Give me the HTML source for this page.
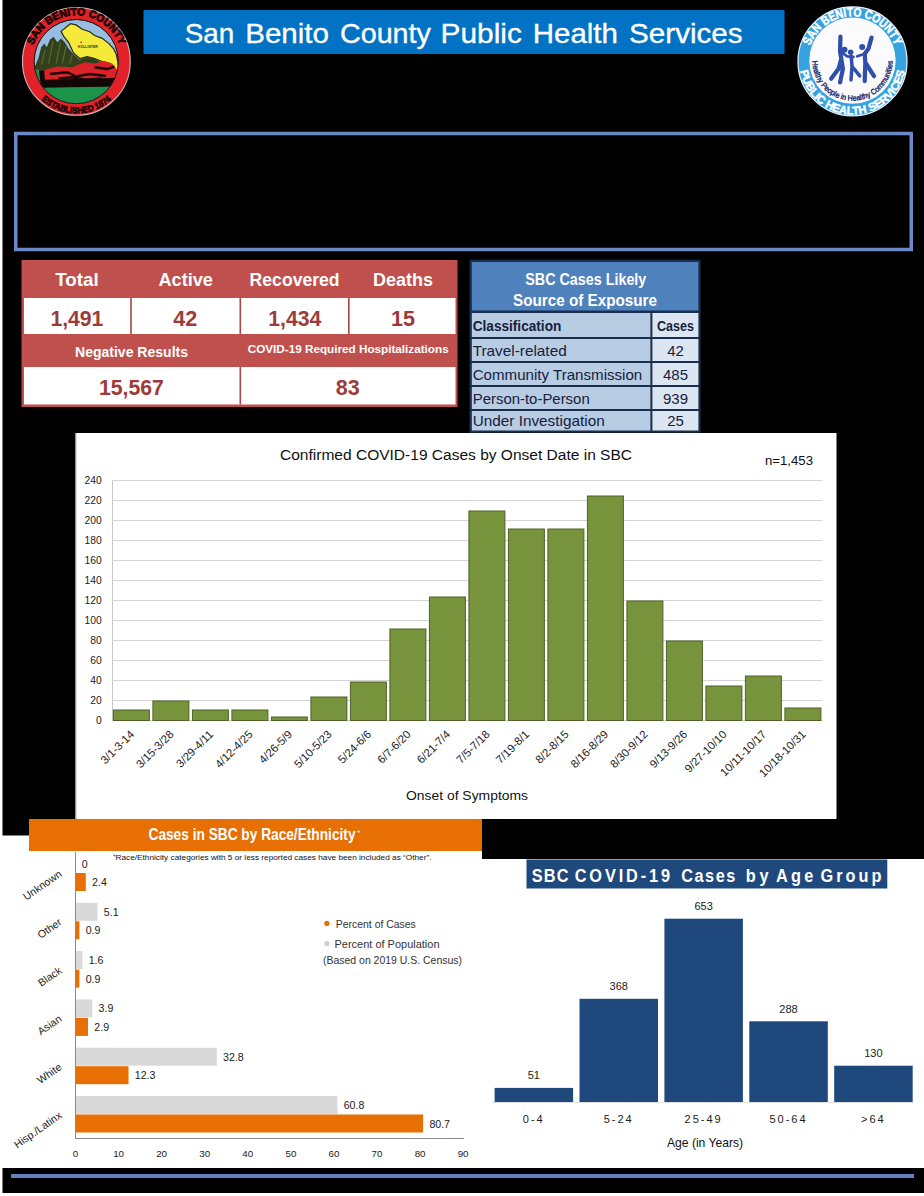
<!DOCTYPE html><html><head><meta charset="utf-8"><title>San Benito County Public Health Services</title><style>html,body{margin:0;padding:0;background:#fff;}body{width:924px;height:1196px;overflow:hidden;}svg{display:block;font-family:"Liberation Sans",Arial,sans-serif;}</style></head><body>
<svg width="924" height="1196" viewBox="0 0 924 1196">
<rect x="0" y="0" width="924" height="1196" fill="#fff"/>
<rect x="2.5" y="0" width="921.5" height="819.5" fill="#000"/>
<rect x="2.5" y="819" width="27" height="16.5" fill="#000"/>
<rect x="482" y="819" width="442" height="40" fill="#000"/>
<rect x="2.5" y="1168" width="921.5" height="25" fill="#000"/>
<rect x="11" y="1174" width="903" height="4" fill="#5E80BE"/>
<g transform="translate(20,5) scale(0.12446)">
<defs><clipPath id="lin"><circle cx="452" cy="455" r="337"/></clipPath><path id="ltop" d="M 82 453 A 371 371 0 0 1 824 453"/><path id="lbot" d="M 35 453 A 418 418 0 0 0 871 453"/></defs>
<circle cx="453" cy="453" r="433" fill="#E32128" stroke="#c9b7b7" stroke-width="9"/>
<circle cx="452" cy="455" r="340" fill="#1a1a1a"/>
<g clip-path="url(#lin)">
<rect x="100" y="100" width="720" height="720" fill="#97BDE3"/>
<path d="M330 212 L405 150 L450 160 L500 195 L560 215 L600 245 L660 268 L715 310 L752 352 L775 400 L785 450 L800 540 L760 520 L720 470 L660 455 L600 430 L540 415 L480 430 L430 385 L390 300 L350 250 Z" fill="#F5EA3A" stroke="#2a2a10" stroke-width="10"/>
<path d="M110 520 L150 420 L170 340 L195 310 L215 340 L240 280 L270 255 L300 300 L330 270 L360 300 L390 350 L430 395 L480 440 L530 415 L590 425 L650 460 L690 480 L560 520 L300 530 Z" fill="#33401C"/>
<path d="M175 480 L200 360 M230 470 L265 290 M290 470 L325 300 M340 470 L370 330 M400 470 L420 400" stroke="#5A6632" stroke-width="10" fill="none"/>
<path d="M190 525 L300 495 L420 500 L520 460 L600 470 L680 450 L740 470 L780 520 L790 600 L190 605 Z" fill="#DA2228"/>
<path d="M240 555 L380 540 L450 575 L560 555 L690 570 M310 590 L420 580 L520 600 L650 590 M600 500 L700 515 L760 495" stroke="#1a0606" stroke-width="20" fill="none"/>
<path d="M150 525 L195 525 L200 600 L790 585 L800 600 L800 660 L160 668 Z" fill="#120606"/>
<path d="M100 520 L150 520 L170 665 L820 655 L820 820 L100 820 Z" fill="#1B9449"/>
</g>
<circle cx="452" cy="455" r="338" fill="none" stroke="#111" stroke-width="7"/>
<circle cx="492" cy="300" r="7" fill="#c0302a"/>
<text x="465" y="345" font-size="30" font-weight="bold" fill="#3a2a10" textLength="160" lengthAdjust="spacingAndGlyphs">HOLLISTER</text>
<text font-size="84" font-weight="bold" fill="#1a0505" stroke="#1a0505" stroke-width="6"><textPath href="#ltop" startOffset="50%" text-anchor="middle" textLength="900" lengthAdjust="spacingAndGlyphs">SAN BENITO COUNTY</textPath></text>
<text font-size="72" font-weight="bold" fill="#1a0505" stroke="#1a0505" stroke-width="5"><textPath href="#lbot" startOffset="50%" text-anchor="middle" textLength="620" lengthAdjust="spacingAndGlyphs">ESTABLISHED 1874</textPath></text>
</g>
<g transform="translate(795,4) scale(0.12446)">
<defs><path id="rtop" d="M 100 461 A 362 362 0 0 1 824 461"/><path id="rbot" d="M 34 461 A 428 428 0 0 0 890 461"/><path id="rin" d="M 151 372 A 322 322 0 1 0 773 372"/></defs>
<circle cx="462" cy="461" r="438" fill="#35A2E2" stroke="#e8f4fb" stroke-width="10"/>
<circle cx="462" cy="455" r="347" fill="#FBFBFD"/>
<text font-size="100" font-weight="bold" fill="#fff" stroke="#fff" stroke-width="4"><textPath href="#rtop" startOffset="50%" text-anchor="middle" textLength="880" lengthAdjust="spacingAndGlyphs">SAN BENITO COUNTY</textPath></text>
<text font-size="92" font-weight="bold" fill="#fff" stroke="#fff" stroke-width="4"><textPath href="#rbot" startOffset="50%" text-anchor="middle" textLength="1190" lengthAdjust="spacingAndGlyphs">PUBLIC HEALTH SERVICES</textPath></text>
<g fill="#2F4FAA" stroke="#2F4FAA" stroke-linecap="round" stroke-linejoin="round">
<circle cx="398" cy="368" r="24" stroke="none"/><circle cx="447" cy="388" r="22" stroke="none"/><circle cx="540" cy="345" r="24" stroke="none"/>
<path d="M365 262 L362 380 L372 440 L350 520 L290 600 M372 440 L385 520 L362 630" fill="none" stroke-width="34"/>
<path d="M362 380 L420 420 L470 425" fill="none" stroke-width="22"/>
<path d="M452 420 L458 500 L450 610 M458 500 L520 578" fill="none" stroke-width="28"/>
<path d="M615 270 L590 360 L560 400 L565 470 L560 620 M565 470 L635 580" fill="none" stroke-width="34"/>
<path d="M560 400 L500 420" fill="none" stroke-width="22"/>
</g>
<text font-size="62" fill="#1B2A66" stroke="#1B2A66" stroke-width="3"><textPath href="#rin" startOffset="50%" text-anchor="middle" textLength="1010" lengthAdjust="spacingAndGlyphs">Healthy People in Healthy Communities</textPath></text>
</g>
<rect x="143.5" y="10" width="641" height="44" fill="#0272C4"/>
<text x="184.7" y="43.1" font-size="28.5" fill="#fff" text-anchor="start" textLength="49.5" lengthAdjust="spacingAndGlyphs" stroke="#fff" stroke-width="0.35">San</text>
<text x="245.2" y="43.1" font-size="28.5" fill="#fff" text-anchor="start" textLength="83.8" lengthAdjust="spacingAndGlyphs" stroke="#fff" stroke-width="0.35">Benito</text>
<text x="340" y="43.1" font-size="28.5" fill="#fff" text-anchor="start" textLength="90.9" lengthAdjust="spacingAndGlyphs" stroke="#fff" stroke-width="0.35">County</text>
<text x="440.6" y="43.1" font-size="28.5" fill="#fff" text-anchor="start" textLength="81.2" lengthAdjust="spacingAndGlyphs" stroke="#fff" stroke-width="0.35">Public</text>
<text x="532.8" y="43.1" font-size="28.5" fill="#fff" text-anchor="start" textLength="85.1" lengthAdjust="spacingAndGlyphs" stroke="#fff" stroke-width="0.35">Health</text>
<text x="629" y="43.1" font-size="28.5" fill="#fff" text-anchor="start" textLength="113.7" lengthAdjust="spacingAndGlyphs" stroke="#fff" stroke-width="0.35">Services</text>
<rect x="15.75" y="133.5" width="895.5" height="116" fill="none" stroke="#6B89C4" stroke-width="3.5"/>
<rect x="21.5" y="260" width="436" height="147" fill="#C0504D"/>
<rect x="24" y="298" width="431.5" height="36" fill="#fff"/>
<rect x="24" y="367" width="431.5" height="37.5" fill="#fff"/>
<rect x="130.2" y="298" width="1.6" height="36" fill="#A64542"/>
<rect x="239.5" y="298" width="1.6" height="36" fill="#A64542"/>
<rect x="348" y="298" width="1.6" height="36" fill="#A64542"/>
<rect x="239.5" y="367" width="1.6" height="37.5" fill="#A64542"/>
<text x="77" y="286.3" font-size="18.5" fill="#fff" font-weight="bold" text-anchor="middle" textLength="43.5" lengthAdjust="spacingAndGlyphs" >Total</text>
<text x="185.7" y="286.3" font-size="18.5" fill="#fff" font-weight="bold" text-anchor="middle" textLength="54.5" lengthAdjust="spacingAndGlyphs" >Active</text>
<text x="294.6" y="286.3" font-size="18.5" fill="#fff" font-weight="bold" text-anchor="middle" textLength="90" lengthAdjust="spacingAndGlyphs" >Recovered</text>
<text x="403" y="286.3" font-size="18.5" fill="#fff" font-weight="bold" text-anchor="middle" textLength="60" lengthAdjust="spacingAndGlyphs" >Deaths</text>
<text x="76.9" y="325.5" font-size="21.5" fill="#9C3B39" font-weight="bold" text-anchor="middle" textLength="53" lengthAdjust="spacingAndGlyphs" >1,491</text>
<text x="185.2" y="325.5" font-size="21.5" fill="#9C3B39" font-weight="bold" text-anchor="middle" textLength="24" lengthAdjust="spacingAndGlyphs" >42</text>
<text x="294.8" y="325.5" font-size="21.5" fill="#9C3B39" font-weight="bold" text-anchor="middle" textLength="53" lengthAdjust="spacingAndGlyphs" >1,434</text>
<text x="403" y="325.5" font-size="21.5" fill="#9C3B39" font-weight="bold" text-anchor="middle" textLength="24" lengthAdjust="spacingAndGlyphs" >15</text>
<text x="131.5" y="356.5" font-size="14" fill="#fff" font-weight="bold" text-anchor="middle" textLength="113" lengthAdjust="spacingAndGlyphs" >Negative Results</text>
<text x="348.2" y="352.5" font-size="11.5" fill="#fff" font-weight="bold" text-anchor="middle" textLength="201" lengthAdjust="spacingAndGlyphs" >COVID-19 Required Hospitalizations</text>
<text x="131.4" y="395" font-size="21.5" fill="#9C3B39" font-weight="bold" text-anchor="middle" textLength="65" lengthAdjust="spacingAndGlyphs" >15,567</text>
<text x="347.7" y="395" font-size="21.5" fill="#9C3B39" font-weight="bold" text-anchor="middle" textLength="24" lengthAdjust="spacingAndGlyphs" >83</text>
<rect x="469.5" y="259.7" width="231" height="173" fill="#1A2E4D"/>
<rect x="471.8" y="262" width="226.6" height="48.5" fill="#4F81BD"/>
<rect x="471.8" y="313" width="178.6" height="24" fill="#B8CCE4"/>
<rect x="652.4" y="313" width="46" height="24" fill="#DCE6F2"/>
<rect x="471.8" y="339" width="178.6" height="22" fill="#B8CCE4"/>
<rect x="652.4" y="339" width="46" height="22" fill="#DCE6F2"/>
<rect x="471.8" y="363" width="178.6" height="22" fill="#B8CCE4"/>
<rect x="652.4" y="363" width="46" height="22" fill="#DCE6F2"/>
<rect x="471.8" y="387" width="178.6" height="22" fill="#B8CCE4"/>
<rect x="652.4" y="387" width="46" height="22" fill="#DCE6F2"/>
<rect x="471.8" y="411" width="178.6" height="19.5" fill="#B8CCE4"/>
<rect x="652.4" y="411" width="46" height="19.5" fill="#DCE6F2"/>
<text x="585.8" y="284.6" font-size="17.2" fill="#fff" font-weight="bold" text-anchor="middle" textLength="121" lengthAdjust="spacingAndGlyphs" >SBC Cases Likely</text>
<text x="585" y="305.8" font-size="17.2" fill="#fff" font-weight="bold" text-anchor="middle" textLength="144" lengthAdjust="spacingAndGlyphs" >Source of Exposure</text>
<text x="472.7" y="331.3" font-size="15" fill="#15213A" font-weight="bold" text-anchor="start" textLength="88.6" lengthAdjust="spacingAndGlyphs" >Classification</text>
<text x="675.5" y="331.3" font-size="15" fill="#15213A" font-weight="bold" text-anchor="middle" textLength="37" lengthAdjust="spacingAndGlyphs" >Cases</text>
<text x="472.7" y="356.4" font-size="15" fill="#15213A" text-anchor="start" textLength="94" lengthAdjust="spacingAndGlyphs" >Travel-related</text>
<text x="675.5" y="356.4" font-size="15" fill="#15213A" text-anchor="middle" >42</text>
<text x="472.7" y="379.8" font-size="15" fill="#15213A" text-anchor="start" textLength="169.6" lengthAdjust="spacingAndGlyphs" >Community Transmission</text>
<text x="675.5" y="379.8" font-size="15" fill="#15213A" text-anchor="middle" >485</text>
<text x="472.7" y="404.2" font-size="15" fill="#15213A" text-anchor="start" textLength="117" lengthAdjust="spacingAndGlyphs" >Person-to-Person</text>
<text x="675.5" y="404.2" font-size="15" fill="#15213A" text-anchor="middle" >939</text>
<text x="472.7" y="426.2" font-size="15" fill="#15213A" text-anchor="start" textLength="132" lengthAdjust="spacingAndGlyphs" >Under Investigation</text>
<text x="675.5" y="426.2" font-size="15" fill="#15213A" text-anchor="middle" >25</text>
<rect x="75.5" y="433" width="761" height="386" fill="#fff"/>
<rect x="75.5" y="433" width="1" height="386" fill="#b0b0b0"/>
<rect x="112" y="480" width="1" height="241" fill="#C8C8C8"/>
<rect x="112" y="720.0" width="710.5" height="1" fill="#D4D4D4"/>
<text x="101.8" y="723.7" font-size="10.3" fill="#222" text-anchor="end" >0</text>
<rect x="112" y="700.0" width="710.5" height="1" fill="#D4D4D4"/>
<text x="101.8" y="703.7" font-size="10.3" fill="#222" text-anchor="end" >20</text>
<rect x="112" y="680.0" width="710.5" height="1" fill="#D4D4D4"/>
<text x="101.8" y="683.7" font-size="10.3" fill="#222" text-anchor="end" >40</text>
<rect x="112" y="660.0" width="710.5" height="1" fill="#D4D4D4"/>
<text x="101.8" y="663.7" font-size="10.3" fill="#222" text-anchor="end" >60</text>
<rect x="112" y="640.0" width="710.5" height="1" fill="#D4D4D4"/>
<text x="101.8" y="643.7" font-size="10.3" fill="#222" text-anchor="end" >80</text>
<rect x="112" y="620.0" width="710.5" height="1" fill="#D4D4D4"/>
<text x="101.8" y="623.7" font-size="10.3" fill="#222" text-anchor="end" >100</text>
<rect x="112" y="600.0" width="710.5" height="1" fill="#D4D4D4"/>
<text x="101.8" y="603.7" font-size="10.3" fill="#222" text-anchor="end" >120</text>
<rect x="112" y="580.0" width="710.5" height="1" fill="#D4D4D4"/>
<text x="101.8" y="583.7" font-size="10.3" fill="#222" text-anchor="end" >140</text>
<rect x="112" y="560.0" width="710.5" height="1" fill="#D4D4D4"/>
<text x="101.8" y="563.7" font-size="10.3" fill="#222" text-anchor="end" >160</text>
<rect x="112" y="540.0" width="710.5" height="1" fill="#D4D4D4"/>
<text x="101.8" y="543.7" font-size="10.3" fill="#222" text-anchor="end" >180</text>
<rect x="112" y="520.0" width="710.5" height="1" fill="#D4D4D4"/>
<text x="101.8" y="523.7" font-size="10.3" fill="#222" text-anchor="end" >200</text>
<rect x="112" y="500.0" width="710.5" height="1" fill="#D4D4D4"/>
<text x="101.8" y="503.7" font-size="10.3" fill="#222" text-anchor="end" >220</text>
<rect x="112" y="480.0" width="710.5" height="1" fill="#D4D4D4"/>
<text x="101.8" y="483.7" font-size="10.3" fill="#222" text-anchor="end" >240</text>
<rect x="113.40" y="710.0" width="36" height="10.5" fill="#77933C" stroke="#4F6228" stroke-width="1"/>
<text x="0" y="0" font-size="11.3" fill="#222" text-anchor="end" transform="translate(134.9,735) rotate(-45)">3/1-3-14</text>
<rect x="152.90" y="701.0" width="36" height="19.5" fill="#77933C" stroke="#4F6228" stroke-width="1"/>
<text x="0" y="0" font-size="11.3" fill="#222" text-anchor="end" transform="translate(174.4,735) rotate(-45)">3/15-3/28</text>
<rect x="192.40" y="710.0" width="36" height="10.5" fill="#77933C" stroke="#4F6228" stroke-width="1"/>
<text x="0" y="0" font-size="11.3" fill="#222" text-anchor="end" transform="translate(213.9,735) rotate(-45)">3/29-4/11</text>
<rect x="231.90" y="710.0" width="36" height="10.5" fill="#77933C" stroke="#4F6228" stroke-width="1"/>
<text x="0" y="0" font-size="11.3" fill="#222" text-anchor="end" transform="translate(253.4,735) rotate(-45)">4/12-4/25</text>
<rect x="271.40" y="717.0" width="36" height="3.5" fill="#77933C" stroke="#4F6228" stroke-width="1"/>
<text x="0" y="0" font-size="11.3" fill="#222" text-anchor="end" transform="translate(292.9,735) rotate(-45)">4/26-5/9</text>
<rect x="310.90" y="697.0" width="36" height="23.5" fill="#77933C" stroke="#4F6228" stroke-width="1"/>
<text x="0" y="0" font-size="11.3" fill="#222" text-anchor="end" transform="translate(332.4,735) rotate(-45)">5/10-5/23</text>
<rect x="350.40" y="682.0" width="36" height="38.5" fill="#77933C" stroke="#4F6228" stroke-width="1"/>
<text x="0" y="0" font-size="11.3" fill="#222" text-anchor="end" transform="translate(371.9,735) rotate(-45)">5/24-6/6</text>
<rect x="389.90" y="629.0" width="36" height="91.5" fill="#77933C" stroke="#4F6228" stroke-width="1"/>
<text x="0" y="0" font-size="11.3" fill="#222" text-anchor="end" transform="translate(411.4,735) rotate(-45)">6/7-6/20</text>
<rect x="429.40" y="597.0" width="36" height="123.5" fill="#77933C" stroke="#4F6228" stroke-width="1"/>
<text x="0" y="0" font-size="11.3" fill="#222" text-anchor="end" transform="translate(450.9,735) rotate(-45)">6/21-7/4</text>
<rect x="468.90" y="511.0" width="36" height="209.5" fill="#77933C" stroke="#4F6228" stroke-width="1"/>
<text x="0" y="0" font-size="11.3" fill="#222" text-anchor="end" transform="translate(490.4,735) rotate(-45)">7/5-7/18</text>
<rect x="508.40" y="529.0" width="36" height="191.5" fill="#77933C" stroke="#4F6228" stroke-width="1"/>
<text x="0" y="0" font-size="11.3" fill="#222" text-anchor="end" transform="translate(529.9,735) rotate(-45)">7/19-8/1</text>
<rect x="547.90" y="529.0" width="36" height="191.5" fill="#77933C" stroke="#4F6228" stroke-width="1"/>
<text x="0" y="0" font-size="11.3" fill="#222" text-anchor="end" transform="translate(569.4,735) rotate(-45)">8/2-8/15</text>
<rect x="587.40" y="496.0" width="36" height="224.5" fill="#77933C" stroke="#4F6228" stroke-width="1"/>
<text x="0" y="0" font-size="11.3" fill="#222" text-anchor="end" transform="translate(608.9,735) rotate(-45)">8/16-8/29</text>
<rect x="626.90" y="601.0" width="36" height="119.5" fill="#77933C" stroke="#4F6228" stroke-width="1"/>
<text x="0" y="0" font-size="11.3" fill="#222" text-anchor="end" transform="translate(648.4,735) rotate(-45)">8/30-9/12</text>
<rect x="666.40" y="641.0" width="36" height="79.5" fill="#77933C" stroke="#4F6228" stroke-width="1"/>
<text x="0" y="0" font-size="11.3" fill="#222" text-anchor="end" transform="translate(687.9,735) rotate(-45)">9/13-9/26</text>
<rect x="705.90" y="686.0" width="36" height="34.5" fill="#77933C" stroke="#4F6228" stroke-width="1"/>
<text x="0" y="0" font-size="11.3" fill="#222" text-anchor="end" transform="translate(727.4,735) rotate(-45)">9/27-10/10</text>
<rect x="745.40" y="676.0" width="36" height="44.5" fill="#77933C" stroke="#4F6228" stroke-width="1"/>
<text x="0" y="0" font-size="11.3" fill="#222" text-anchor="end" transform="translate(766.9,735) rotate(-45)">10/11-10/17</text>
<rect x="784.90" y="708.0" width="36" height="12.5" fill="#77933C" stroke="#4F6228" stroke-width="1"/>
<text x="0" y="0" font-size="11.3" fill="#222" text-anchor="end" transform="translate(806.4,735) rotate(-45)">10/18-10/31</text>
<text x="456" y="459.7" font-size="15.5" fill="#111" text-anchor="middle" textLength="352" lengthAdjust="spacingAndGlyphs" >Confirmed COVID-19 Cases by Onset Date in SBC</text>
<text x="813" y="464.5" font-size="12.5" fill="#111" text-anchor="end" textLength="48" lengthAdjust="spacingAndGlyphs" >n=1,453</text>
<text x="467" y="800" font-size="13.5" fill="#111" text-anchor="middle" textLength="122" lengthAdjust="spacingAndGlyphs" >Onset of Symptoms</text>
<rect x="29" y="819" width="453" height="32" fill="#E76F04"/>
<text x="148.5" y="839.5" font-size="16.6" fill="#fff" font-weight="bold" text-anchor="start" textLength="207" lengthAdjust="spacingAndGlyphs" >Cases in SBC by Race/Ethnicity</text>
<text x="357" y="833" font-size="6" fill="#fff" font-weight="bold" text-anchor="start" >+</text>
<text x="113" y="857" font-size="4.5" fill="#111" text-anchor="start" >+</text>
<text x="115.5" y="860.3" font-size="7.6" fill="#111" text-anchor="start" textLength="316" lengthAdjust="spacingAndGlyphs" >Race/Ethnicity categories with 5 or less reported cases have been included as “Other”.</text>
<rect x="75.5" y="854.5" width="0.0" height="18" fill="#D9D9D9"/>
<rect x="75.5" y="873.0" width="10.3" height="18" fill="#E76F04"/>
<text x="81.8" y="867.5" font-size="10.6" fill="#222" text-anchor="start" >0</text>
<text x="92.1" y="886.0" font-size="10.6" fill="#222" text-anchor="start" >2.4</text>
<text x="0" y="0" font-size="10.6" fill="#222" text-anchor="end" transform="translate(62.5,875.5) rotate(-35)">Unknown</text>
<rect x="75.5" y="902.8" width="22.0" height="18" fill="#D9D9D9"/>
<rect x="75.5" y="921.3" width="3.9" height="18" fill="#E76F04"/>
<text x="103.8" y="915.8" font-size="10.6" fill="#222" text-anchor="start" >5.1</text>
<text x="85.7" y="934.3" font-size="10.6" fill="#222" text-anchor="start" >0.9</text>
<text x="0" y="0" font-size="10.6" fill="#222" text-anchor="end" transform="translate(62.5,923.8) rotate(-35)">Other</text>
<rect x="75.5" y="951.1" width="6.9" height="18" fill="#D9D9D9"/>
<rect x="75.5" y="969.6" width="3.9" height="18" fill="#E76F04"/>
<text x="88.7" y="964.1" font-size="10.6" fill="#222" text-anchor="start" >1.6</text>
<text x="85.7" y="982.6" font-size="10.6" fill="#222" text-anchor="start" >0.9</text>
<text x="0" y="0" font-size="10.6" fill="#222" text-anchor="end" transform="translate(62.5,972.1) rotate(-35)">Black</text>
<rect x="75.5" y="999.4" width="16.8" height="18" fill="#D9D9D9"/>
<rect x="75.5" y="1017.9" width="12.5" height="18" fill="#E76F04"/>
<text x="98.6" y="1012.4" font-size="10.6" fill="#222" text-anchor="start" >3.9</text>
<text x="94.3" y="1030.9" font-size="10.6" fill="#222" text-anchor="start" >2.9</text>
<text x="0" y="0" font-size="10.6" fill="#222" text-anchor="end" transform="translate(62.5,1020.4) rotate(-35)">Asian</text>
<rect x="75.5" y="1047.7" width="141.3" height="18" fill="#D9D9D9"/>
<rect x="75.5" y="1066.2" width="53.0" height="18" fill="#E76F04"/>
<text x="223.1" y="1060.7" font-size="10.6" fill="#222" text-anchor="start" >32.8</text>
<text x="134.8" y="1079.2" font-size="10.6" fill="#222" text-anchor="start" >12.3</text>
<text x="0" y="0" font-size="10.6" fill="#222" text-anchor="end" transform="translate(62.5,1068.7) rotate(-35)">White</text>
<rect x="75.5" y="1096.0" width="261.9" height="18" fill="#D9D9D9"/>
<rect x="75.5" y="1114.5" width="347.6" height="18" fill="#E76F04"/>
<text x="343.7" y="1109.0" font-size="10.6" fill="#222" text-anchor="start" >60.8</text>
<text x="429.4" y="1127.5" font-size="10.6" fill="#222" text-anchor="start" >80.7</text>
<text x="0" y="0" font-size="10.6" fill="#222" text-anchor="end" transform="translate(62.5,1117.0) rotate(-35)">Hisp./Latinx</text>
<rect x="75" y="852" width="1" height="287" fill="#8a8a8a"/>
<rect x="75" y="1138" width="389" height="1" fill="#8a8a8a"/>
<text x="75.5" y="1156.6" font-size="9.8" fill="#222" text-anchor="middle" >0</text>
<text x="118.6" y="1156.6" font-size="9.8" fill="#222" text-anchor="middle" >10</text>
<text x="161.6" y="1156.6" font-size="9.8" fill="#222" text-anchor="middle" >20</text>
<text x="204.7" y="1156.6" font-size="9.8" fill="#222" text-anchor="middle" >30</text>
<text x="247.8" y="1156.6" font-size="9.8" fill="#222" text-anchor="middle" >40</text>
<text x="290.9" y="1156.6" font-size="9.8" fill="#222" text-anchor="middle" >50</text>
<text x="333.9" y="1156.6" font-size="9.8" fill="#222" text-anchor="middle" >60</text>
<text x="377.0" y="1156.6" font-size="9.8" fill="#222" text-anchor="middle" >70</text>
<text x="420.1" y="1156.6" font-size="9.8" fill="#222" text-anchor="middle" >80</text>
<text x="463.1" y="1156.6" font-size="9.8" fill="#222" text-anchor="middle" >90</text>
<circle cx="326.9" cy="923.4" r="2.6" fill="#E76F04"/>
<circle cx="326.9" cy="943.6" r="2.6" fill="#CFCFCF"/>
<text x="335.8" y="928" font-size="11.5" fill="#333" text-anchor="start" textLength="80" lengthAdjust="spacingAndGlyphs" >Percent of Cases</text>
<text x="334.5" y="948.2" font-size="11.5" fill="#333" text-anchor="start" textLength="105" lengthAdjust="spacingAndGlyphs" >Percent of Population</text>
<text x="323" y="964.2" font-size="11.5" fill="#333" text-anchor="start" textLength="139" lengthAdjust="spacingAndGlyphs" >(Based on 2019 U.S. Census)</text>
<rect x="526.5" y="859.5" width="360.8" height="29" fill="#1F497D"/>
<g transform="scale(0.88,1)">
<text x="604.2" y="882.5" font-size="18.5" font-weight="bold" fill="#fff" textLength="41.7" lengthAdjust="spacing">SBC</text>
<text x="653.1" y="882.5" font-size="18.5" font-weight="bold" fill="#fff" textLength="108.2" lengthAdjust="spacing">COVID-19</text>
<text x="774.3" y="882.5" font-size="18.5" font-weight="bold" fill="#fff" textLength="61.2" lengthAdjust="spacing">Cases</text>
<text x="847.4" y="882.5" font-size="18.5" font-weight="bold" fill="#fff" textLength="26.0" lengthAdjust="spacing">by</text>
<text x="881.8" y="882.5" font-size="18.5" font-weight="bold" fill="#fff" textLength="42.5" lengthAdjust="spacing">Age</text>
<text x="932.4" y="882.5" font-size="18.5" font-weight="bold" fill="#fff" textLength="69.3" lengthAdjust="spacing">Group</text>
</g>
<rect x="494.6" y="1087.9" width="78.5" height="14.3" fill="#1F497D"/>
<text x="533.8" y="1079.2" font-size="11" fill="#222" text-anchor="middle" >51</text>
<text x="533.8" y="1123" font-size="11" fill="#222" text-anchor="middle" letter-spacing="2">0-4</text>
<rect x="579.5" y="998.8" width="78.5" height="103.4" fill="#1F497D"/>
<text x="618.7" y="990.1" font-size="11" fill="#222" text-anchor="middle" >368</text>
<text x="618.7" y="1123" font-size="11" fill="#222" text-anchor="middle" letter-spacing="2">5-24</text>
<rect x="664.4" y="918.7" width="78.5" height="183.5" fill="#1F497D"/>
<text x="703.6" y="910.0" font-size="11" fill="#222" text-anchor="middle" >653</text>
<text x="703.6" y="1123" font-size="11" fill="#222" text-anchor="middle" letter-spacing="2">25-49</text>
<rect x="749.3" y="1021.3" width="78.5" height="80.9" fill="#1F497D"/>
<text x="788.5" y="1012.6" font-size="11" fill="#222" text-anchor="middle" >288</text>
<text x="788.5" y="1123" font-size="11" fill="#222" text-anchor="middle" letter-spacing="2">50-64</text>
<rect x="834.2" y="1065.7" width="78.5" height="36.5" fill="#1F497D"/>
<text x="873.4" y="1057.0" font-size="11" fill="#222" text-anchor="middle" >130</text>
<text x="873.4" y="1123" font-size="11" fill="#222" text-anchor="middle" letter-spacing="2">&gt;64</text>
<rect x="492" y="1102" width="422" height="1" fill="#E2E2E2"/>
<text x="705" y="1146.8" font-size="13.3" fill="#111" text-anchor="middle" textLength="76" lengthAdjust="spacingAndGlyphs" >Age (in Years)</text>
</svg></body></html>
